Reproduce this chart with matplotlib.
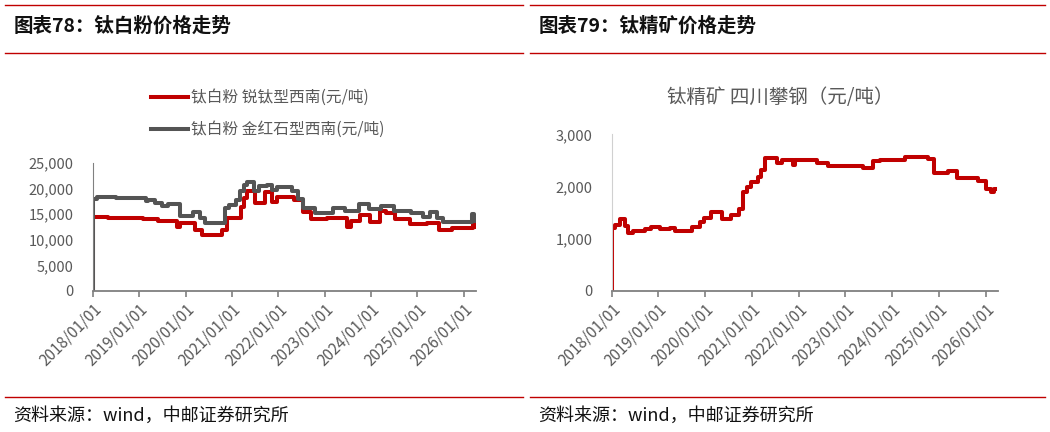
import pandas as pd
import matplotlib.pyplot as plt
from matplotlib.lines import Line2D

plt.rcParams['font.family'] = ['Noto Sans CJK SC', 'DejaVu Sans']

# 钛白粉 金红石型西南 (元/吨), change points
rutile_dates = ['2018-01-01', '2018-01-04', '2018-02-01', '2018-07-01', '2019-02-20', '2019-03-10',
                '2019-05-01', '2019-07-01', '2019-08-15', '2019-11-20', '2020-03-01', '2020-04-20',
                '2020-06-01', '2020-11-05', '2020-12-10', '2021-02-01', '2021-03-01', '2021-04-01',
                '2021-04-25', '2021-06-20', '2021-08-01', '2021-10-01', '2021-11-15', '2021-12-20',
                '2022-04-20', '2022-06-01', '2022-07-15', '2022-10-15', '2023-03-10', '2023-06-10',
                '2023-09-25', '2023-12-20', '2024-03-20', '2024-07-01', '2024-11-15', '2025-02-10',
                '2025-04-10', '2025-06-01', '2025-07-20', '2026-03-10', '2026-03-25', '2026-04-01']
rutile_vals = [0, 18000, 18400, 18100, 17500, 17800,
               17100, 16500, 17000, 14700, 15400, 14300,
               13200, 16100, 16700, 17800, 19400, 20700,
               21300, 19400, 20400, 20700, 19700, 20300,
               19500, 18000, 16100, 15150, 16250, 15600,
               16900, 16000, 16600, 15600, 15200, 14500,
               15300, 14200, 13400, 15000, 13600, 13600]

# 钛白粉 锐钛型西南 (元/吨)
anatase_dates = ['2018-01-01', '2018-01-04', '2018-05-01', '2018-08-01', '2019-02-01', '2019-06-01',
                 '2019-10-25', '2019-11-20', '2020-03-15', '2020-05-10', '2020-10-15', '2020-11-20',
                 '2021-03-10', '2021-04-01', '2021-05-01', '2021-07-01', '2021-09-20', '2021-11-10',
                 '2021-12-20', '2022-05-01', '2022-07-15', '2022-09-15', '2023-01-20', '2023-06-25',
                 '2023-07-25', '2023-10-05', '2023-12-25', '2024-03-10', '2024-05-01', '2024-07-10',
                 '2024-11-05', '2025-03-15', '2025-06-20', '2025-10-01', '2026-03-15', '2026-03-30',
                 '2026-04-01']
anatase_vals = [0, 14400, 14170, 14300, 13970, 13650,
                12540, 13200, 11900, 10920, 11900, 14300,
                16450, 18070, 19500, 17100, 19300, 17400,
                18400, 17750, 15470, 14040, 14170, 12540,
                13600, 14820, 13520, 15600, 15140, 14040,
                13000, 13200, 11900, 12200, 13200, 12500,
                12500]

# 钛精矿 四川攀钢 (元/吨)
ore_dates = ['2018-01-01', '2018-01-03', '2018-01-25', '2018-03-10', '2018-04-15', '2018-05-10',
             '2018-06-15', '2018-09-20', '2018-11-01', '2019-01-10', '2019-04-01', '2019-05-10',
             '2019-09-20', '2019-11-20', '2019-12-20', '2020-02-15', '2020-05-10', '2020-07-20',
             '2020-09-25', '2020-10-25', '2020-11-25', '2020-12-25', '2021-02-15', '2021-03-15',
             '2021-04-10', '2021-07-15', '2021-08-25', '2021-11-20', '2021-12-01', '2022-05-20',
             '2022-08-15', '2023-05-15', '2023-08-05', '2023-09-25', '2024-04-10', '2024-10-10',
             '2024-11-25', '2025-03-10', '2025-05-20', '2025-11-05', '2026-01-05', '2026-02-15',
             '2026-03-05', '2026-03-15']
ore_vals = [0, 1200, 1260, 1370, 1250, 1110,
            1140, 1180, 1220, 1180, 1210, 1150,
            1220, 1330, 1400, 1520, 1380, 1460,
            1570, 1900, 2000, 2080, 2190, 2320,
            2550, 2460, 2510, 2420, 2510, 2460,
            2400, 2350, 2480, 2510, 2570, 2530,
            2250, 2300, 2160, 2100, 1950, 1900,
            1960, 1960]

tick_years = list(range(2018, 2027))

RED = '#C00000'
GRAY = '#545454'
TXT = '#595959'
LW = 2.9

fig = plt.figure(figsize=(10.5, 4.32), dpi=100)


def style_axis(ax, ylim, yticks, left_spine_color):
    ax.set_xlim(pd.Timestamp('2018-01-01'), pd.Timestamp('2026-04-08'))
    ax.set_ylim(*ylim)
    ax.set_yticks(yticks)
    ax.set_yticklabels([f'{v:,}' for v in yticks])
    ticks = [pd.Timestamp(f'{y}-01-01') for y in tick_years]
    ax.set_xticks(ticks)
    ax.set_xticklabels([f'{y}/01/01' for y in tick_years], rotation=45, ha='right',
                       rotation_mode='anchor')
    for s in ['top', 'right']:
        ax.spines[s].set_visible(False)
    ax.spines['left'].set_color(left_spine_color)
    ax.spines['left'].set_linewidth(0.8)
    ax.spines['bottom'].set_color('#7f7f7f')
    ax.spines['bottom'].set_linewidth(1.3)
    ax.tick_params(axis='y', length=0, labelsize=10.5, labelcolor=TXT, pad=14)
    ax.tick_params(axis='x', length=4, width=1.2, color='#7f7f7f', labelsize=11,
                   labelcolor=TXT, pad=3)


# left chart
ax1 = fig.add_axes([0.0886, 0.3264, 0.3648, 0.297])
ax1.plot(pd.to_datetime(anatase_dates), anatase_vals, drawstyle='steps-post', color=RED, lw=LW)
ax1.plot(pd.to_datetime(rutile_dates), rutile_vals, drawstyle='steps-post', color=GRAY, lw=LW)
style_axis(ax1, (0, 25000), [0, 5000, 10000, 15000, 20000, 25000], '#808080')

handles = [Line2D([], [], color=RED, lw=LW), Line2D([], [], color=GRAY, lw=LW)]
fig.legend(handles, ['钛白粉 锐钛型西南(元/吨)', '钛白粉 金红石型西南(元/吨)'],
           loc='upper left', bbox_to_anchor=(0.130, 0.826), frameon=False,
           handlelength=2.4, handletextpad=0.2, labelspacing=0.95,
           prop={'size': 11.3}, labelcolor=TXT)

# right chart
ax2 = fig.add_axes([0.5826, 0.3264, 0.368, 0.3627])
ax2.plot(pd.to_datetime(ore_dates), ore_vals, drawstyle='steps-post', color=RED, lw=LW)
style_axis(ax2, (0, 3000), [0, 1000, 2000, 3000], '#d0d0d0')
fig.text(0.743, 1 - 97 / 432, '钛精矿 四川攀钢（元/吨）', ha='center', va='center',
         fontsize=14, color=TXT)

# headers, separators, sources
for x0, x1, title in [(5, 523, '图表78：钛白粉价格走势'), (530, 1045, '图表79：钛精矿价格走势')]:
    for y in [5, 53, 397]:
        fig.add_artist(Line2D([x0 / 1050, x1 / 1050], [1 - y / 432, 1 - y / 432],
                              color=RED, lw=1.0))
    fig.text((x0 + 9) / 1050, 1 - 26 / 432, title, ha='left', va='center',
             fontsize=14, fontweight='bold', color='#111111')
    fig.text((x0 + 8) / 1050, 1 - 416 / 432, '资料来源：wind，中邮证券研究所', ha='left',
             va='center', fontsize=13, color='#111111')

fig.savefig('out.png', dpi=100)
